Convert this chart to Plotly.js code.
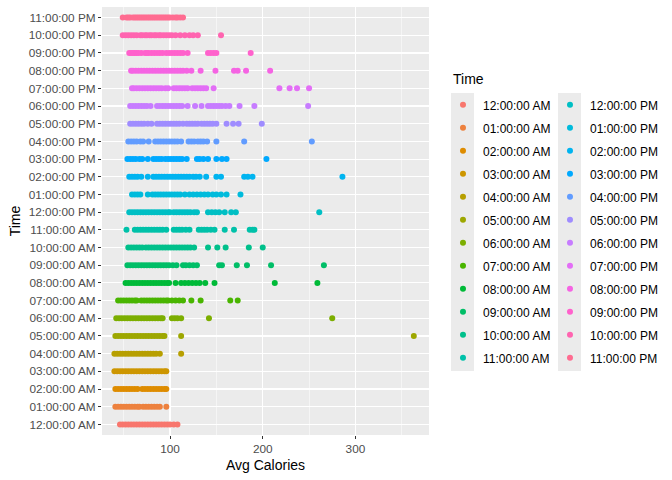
<!DOCTYPE html>
<html>
<head>
<meta charset="utf-8">
<script src="https://cdn.plot.ly/plotly-3.0.1.min.js"></script>
<style>
  html, body { margin: 0; padding: 0; background: #fff; }
  #grafico { width: 672px; height: 480px; }
</style>
</head>
<body>
<div id="grafico"></div>
<script>
// ============================================================================
// Calorías promedio por hora del día -- un punto por persona y hora.
// Eje Y discreto (24 horas, de 12 AM abajo a 11 PM arriba), color por hora.
// ============================================================================

const HORAS = [
  '12:00:00 AM', '01:00:00 AM', '02:00:00 AM', '03:00:00 AM', '04:00:00 AM', '05:00:00 AM',
  '06:00:00 AM', '07:00:00 AM', '08:00:00 AM', '09:00:00 AM', '10:00:00 AM', '11:00:00 AM',
  '12:00:00 PM', '01:00:00 PM', '02:00:00 PM', '03:00:00 PM', '04:00:00 PM', '05:00:00 PM',
  '06:00:00 PM', '07:00:00 PM', '08:00:00 PM', '09:00:00 PM', '10:00:00 PM', '11:00:00 PM',
];

// Avg Calories, una lista por hora
const cal00 = [46, 49, 52, 55, 58, 61, 64, 67, 70, 73, 76, 79, 82, 85, 88, 91, 94, 97, 100, 104, 108];
const cal01 = [41, 44, 47, 50, 53, 56, 59, 62, 65, 67, 71, 74, 77, 80, 83, 86, 89, 96];
const cal02 = [41, 44, 47, 50, 53, 56, 59, 62, 65, 70, 73, 76, 79, 82, 85, 88, 91, 94, 96];
const cal03 = [40, 43, 46, 49, 52, 55, 58, 61, 64, 67, 70, 73, 76, 79, 82, 85, 88, 91, 94, 96];
const cal04 = [40, 43, 46, 49, 52, 55, 58, 61, 64, 67, 70, 73, 76, 79, 82, 85, 89, 112];
const cal05 = [41, 44, 47, 50, 53, 56, 59, 62, 65, 68, 71, 74, 77, 80, 83, 86, 89, 92, 94, 112, 363];
const cal06 = [42, 45, 48, 51, 54, 57, 60, 63, 66, 69, 72, 75, 78, 81, 84, 87, 90, 92, 102, 105, 108, 112, 142, 275];
const cal07 = [44, 47, 50, 53, 56, 59, 62, 64, 69, 72, 75, 78, 81, 84, 87, 90, 93, 96, 98, 102, 106, 110, 114, 123, 133, 165, 173];
const cal08 = [52, 55, 58, 61, 64, 67, 70, 73, 76, 79, 82, 85, 88, 91, 94, 97, 99, 106, 112, 116, 120, 124, 128, 132, 138, 148, 213, 259];
const cal09 = [54, 57, 60, 63, 66, 69, 72, 75, 78, 81, 84, 87, 90, 93, 96, 99, 103, 107, 114, 117, 121, 125, 129, 153, 156, 172, 183, 209, 266];
const cal10 = [55, 58, 61, 64, 67, 70, 74, 77, 80, 83, 86, 89, 92, 95, 98, 101, 104, 107, 110, 113, 116, 119, 122, 126, 141, 151, 160, 185, 200];
const cal11 = [53, 62, 65, 68, 71, 74, 77, 80, 83, 86, 89, 92, 96, 104, 107, 110, 113, 117, 121, 131, 134, 137, 140, 144, 148, 159, 169, 186, 189, 191];
const cal12 = [56, 59, 62, 65, 68, 71, 74, 77, 80, 83, 86, 89, 92, 95, 98, 100, 104, 107, 110, 113, 116, 119, 122, 126, 129, 141, 145, 149, 153, 159, 166, 171, 261];
const cal13 = [59, 62, 65, 68, 76, 81, 84, 87, 90, 93, 96, 99, 102, 105, 108, 111, 116, 121, 125, 129, 133, 137, 141, 146, 150, 155, 161, 176];
const cal14 = [56, 59, 62, 65, 69, 76, 82, 85, 88, 91, 94, 97, 100, 103, 106, 109, 112, 115, 118, 121, 125, 128, 132, 139, 150, 155, 180, 184, 189, 286];
const cal15 = [54, 57, 60, 63, 67, 70, 76, 82, 85, 88, 91, 95, 98, 101, 104, 107, 110, 113, 118, 129, 132, 136, 141, 150, 156, 161, 204];
const cal16 = [55, 58, 61, 64, 68, 71, 77, 84, 87, 90, 93, 96, 99, 102, 105, 108, 112, 120, 123, 126, 130, 133, 136, 140, 150, 180, 253];
const cal17 = [57, 60, 63, 66, 69, 72, 76, 80, 86, 89, 92, 95, 98, 101, 104, 107, 110, 114, 118, 121, 124, 127, 130, 134, 137, 140, 143, 146, 150, 161, 168, 174, 199];
const cal18 = [57, 60, 63, 66, 69, 72, 75, 79, 86, 89, 92, 95, 98, 101, 104, 107, 110, 113, 119, 127, 134, 141, 144, 147, 150, 153, 156, 160, 164, 175, 191, 249];
const cal19 = [59, 61, 64, 67, 70, 73, 76, 79, 82, 85, 88, 91, 95, 98, 104, 107, 110, 113, 116, 119, 124, 127, 130, 133, 136, 139, 147, 218, 229, 237, 250];
const cal20 = [58, 60, 63, 66, 69, 72, 75, 78, 81, 84, 87, 90, 93, 96, 99, 102, 105, 108, 111, 114, 118, 123, 133, 149, 169, 173, 182, 208];
const cal21 = [56, 58, 60, 62, 64, 66, 69, 73, 75, 77, 80, 83, 86, 89, 92, 96, 99, 102, 105, 108, 111, 114, 119, 141, 144, 147, 150, 187];
const cal22 = [49, 52, 55, 58, 61, 64, 68, 70, 73, 75, 78, 80, 83, 85, 88, 90, 93, 96, 99, 102, 106, 111, 116, 121, 125, 130, 155];
const cal23 = [49, 53, 55, 57, 60, 62, 64, 66, 68, 70, 72, 74, 76, 78, 80, 82, 84, 86, 88, 90, 92, 94, 96, 98, 100, 103, 106, 108, 111, 114];

const CALORIAS_POR_HORA = [
  cal00, cal01, cal02, cal03, cal04, cal05, cal06, cal07, cal08, cal09, cal10, cal11,
  cal12, cal13, cal14, cal15, cal16, cal17, cal18, cal19, cal20, cal21, cal22, cal23,
];

// Paleta de tonos tipo ggplot (hcl, c=100, l=65, tonos cada 15°) -- se
// calcula acá en vez de escribir los 24 hex a mano.
function hclAHex(h, c, l) {
  const Xn = 95.047, Yn = 100, Zn = 108.883;
  const den = Xn + 15 * Yn + 3 * Zn;
  const un = 4 * Xn / den, vn = 9 * Yn / den;
  const rad = h * Math.PI / 180;
  const u = c * Math.cos(rad), v = c * Math.sin(rad);
  const Y = Yn * (l > 8 ? Math.pow((l + 16) / 116, 3) : l / 903.3);
  const up = u / (13 * l) + un, vp = v / (13 * l) + vn;
  const X = 9 * Y * up / (4 * vp);
  const Z = Y * (12 - 3 * up - 20 * vp) / (4 * vp);
  const x = X / 100, y = Y / 100, z = Z / 100;
  const lin = [
    3.240479 * x - 1.537150 * y - 0.498535 * z,
    -0.969256 * x + 1.875992 * y + 0.041556 * z,
    0.055648 * x - 0.204043 * y + 1.057311 * z,
  ];
  return '#' + lin.map((t) => {
    const g = t <= 0.0031308 ? 12.92 * t : 1.055 * Math.pow(t, 1 / 2.4) - 0.055;
    const n = Math.round(Math.min(1, Math.max(0, g)) * 255);
    return n.toString(16).padStart(2, '0');
  }).join('');
}
const COLORES = HORAS.map((_, i) => hclAHex(15 + i * 15, 100, 65));

// Una traza por hora; las 12 primeras van a la leyenda 1 y las otras 12 a
// la leyenda 2 (dos columnas como en el original).
const trazas = HORAS.map((hora, i) => ({
  type: 'scatter',
  mode: 'markers',
  name: hora,
  legend: i < 12 ? 'legend' : 'legend2',
  legendgroup: hora,
  x: CALORIAS_POR_HORA[i],
  y: CALORIAS_POR_HORA[i].map(() => hora),
  marker: { size: 6, color: COLORES[i] },
  cliponaxis: false,
  hovertemplate: '%{y}: %{x}<extra></extra>',
}));

const FUENTE = '"Liberation Sans", Arial, Helvetica, sans-serif';
const GRIS_TEXTO = '#4d4d4d';

// fondos grises detrás de los símbolos de la leyenda (estilo ggplot)
const fondoClaves = (x0, x1) => ({
  type: 'rect', xref: 'paper', yref: 'paper', x0, x1, y0: 0.1495, y1: 0.7991,
  fillcolor: '#ebebeb', line: { width: 0 }, layer: 'below',
});

const estiloLeyenda = (x) => ({
  x, xanchor: 'left', y: 0.8053, yanchor: 'top',
  bgcolor: 'rgba(0,0,0,0)',
  font: { size: 12, color: '#000000' },
  tracegroupgap: 4,
  itemclick: false, itemdoubleclick: false,
});

const layout = {
  width: 672,
  height: 480,
  margin: { l: 102, r: 243, t: 7, b: 45 },
  paper_bgcolor: '#ffffff',
  plot_bgcolor: '#ebebeb',
  font: { family: FUENTE, size: 12, color: '#000000' },
  showlegend: true,
  xaxis: {
    range: [26.6, 379.4],
    tickvals: [100, 200, 300],
    ticks: 'outside', ticklen: 3, tickcolor: '#333333', tickwidth: 1,
    tickfont: { size: 11.8, color: GRIS_TEXTO },
    showgrid: true, gridcolor: '#ffffff', gridwidth: 1.1,
    minor: { tickvals: [50, 150, 250, 350], showgrid: true, gridcolor: '#ffffff', gridwidth: 0.5, ticks: '' },
    zeroline: false, showline: false,
    title: { text: 'Avg Calories', font: { size: 14, color: '#000000' }, standoff: 5 },
  },
  yaxis: {
    type: 'category',
    categoryorder: 'array',
    categoryarray: HORAS,
    range: [-0.6, 23.6],
    ticks: 'outside', ticklen: 3, tickcolor: '#333333', tickwidth: 1,
    tickfont: { size: 11.8, color: GRIS_TEXTO },
    showgrid: true, gridcolor: '#ffffff', gridwidth: 1.1,
    zeroline: false, showline: false,
    title: { text: 'Time', font: { size: 14, color: '#000000' }, standoff: 4 },
  },
  legend: estiloLeyenda(1.0428),
  legend2: estiloLeyenda(1.370),
  // título de la leyenda como anotación, para ubicarlo igual que ggplot
  annotations: [{
    text: 'Time', xref: 'paper', yref: 'paper', x: 1.0673, y: 0.8318,
    xanchor: 'left', yanchor: 'middle', showarrow: false,
    font: { size: 14, color: '#000000' },
  }],
  shapes: [fondoClaves(1.0673, 1.1376), fondoClaves(1.3945, 1.4648)],
};

Plotly.newPlot('grafico', trazas, layout, { displayModeBar: false, staticPlot: true });
</script>
</body>
</html>
